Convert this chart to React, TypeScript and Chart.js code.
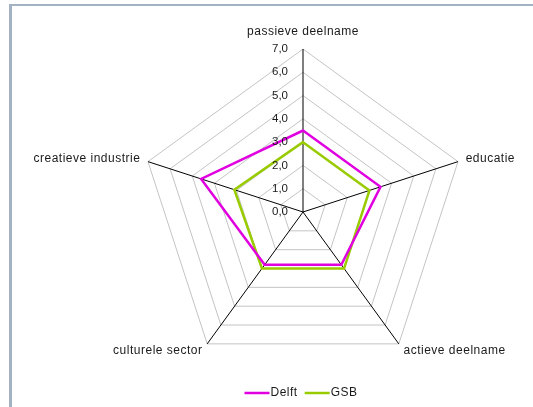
import React, { useEffect, useRef } from "react";
import { Chart, registerables } from "chart.js";

Chart.register(...registerables);

const categories = [
  "passieve deelname",
  "educatie",
  "actieve deelname",
  "culturele sector",
  "creatieve industrie",
];
const delftValues = [3.5, 3.5, 2.8, 2.8, 4.6];
const gsbValues = [3.0, 3.0, 3.0, 3.0, 3.1];
const tickValues = [0, 1, 2, 3, 4, 5, 6, 7];
const seriesNames = ["Delft", "GSB"];

const MAGENTA = "#e000e0";
const GREEN = "#99cc00";
const TICK_FONT = "11.5px 'Liberation Sans', Arial, sans-serif";
const LABEL_FONT = "12px 'Liberation Sans', Arial, sans-serif";
const TEXT = "#1a1a1a";

const labelPlugin = {
  id: "customLabels",
  afterDraw(chart: any) {
    const ctx = chart.ctx;
    const scale = chart.scales.r;
    ctx.save();
    ctx.fillStyle = TEXT;
    // tick labels
    ctx.font = TICK_FONT;
    ctx.textAlign = "right";
    ctx.textBaseline = "middle";
    tickValues.forEach((v) => {
      const d = scale.getDistanceFromCenterForValue(v);
      ctx.fillText(v.toFixed(1).replace(".", ","), scale.xCenter - 15, scale.yCenter - d);
    });
    // point labels
    ctx.font = LABEL_FONT;
    (ctx as any).letterSpacing = "0.5px";
    categories.forEach((label, i) => {
      const p = scale.getPointPosition(i, scale.drawingArea + 8);
      const dx = p.x - scale.xCenter;
      ctx.textBaseline = "middle";
      if (Math.abs(dx) < 1) {
        ctx.textAlign = "center";
        ctx.fillText(label, p.x, p.y - 9);
      } else {
        ctx.textAlign = dx > 0 ? "left" : "right";
        ctx.fillText(label, p.x, p.y);
      }
    });
    // legend
    const ds = chart.data.datasets;
    const lineLen = 25;
    const widths = ds.map((d: any) => ctx.measureText(d.label).width);
    const total = ds.reduce((acc: number, _d: any, i: number) => acc + lineLen + 1 + widths[i], 0) + 7 * (ds.length - 1);
    let x = 301 - total / 2;
    const y = 393;
    ds.forEach((d: any, i: number) => {
      ctx.strokeStyle = d.borderColor;
      ctx.lineWidth = 2.5;
      ctx.beginPath();
      ctx.moveTo(x, y);
      ctx.lineTo(x + lineLen, y);
      ctx.stroke();
      x += lineLen + 1;
      ctx.textAlign = "left";
      ctx.textBaseline = "middle";
      ctx.fillStyle = TEXT;
      ctx.fillText(d.label, x, y);
      x += widths[i] + 7;
    });
    ctx.restore();
  },
};

export default function App() {
  const ref = useRef<HTMLCanvasElement>(null);
  useEffect(() => {
    document.body.style.margin = "0";
    const chart = new Chart(ref.current as HTMLCanvasElement, {
      type: "radar",
      data: {
        labels: categories,
        datasets: [
          {
            label: seriesNames[0],
            data: delftValues,
            borderColor: MAGENTA,
            backgroundColor: "transparent",
            borderWidth: 2.5,
            pointRadius: 0,
            fill: false,
          },
          {
            label: seriesNames[1],
            data: gsbValues,
            borderColor: GREEN,
            backgroundColor: "transparent",
            borderWidth: 2.5,
            pointRadius: 0,
            fill: false,
          },
        ],
      },
      options: {
        animation: false,
        responsive: false,
        maintainAspectRatio: false,
        layout: { padding: { left: 140, right: 67, top: 49, bottom: 32 } },
        plugins: { legend: { display: false }, tooltip: { enabled: false } },
        elements: { line: { tension: 0 } },
        scales: {
          r: {
            min: 0,
            max: 7,
            beginAtZero: true,
            ticks: { stepSize: 1, display: false },
            pointLabels: { display: false },
            grid: { color: "#c4c4c4", lineWidth: 1, circular: false },
            angleLines: { color: "#000000", lineWidth: 1 },
          },
        },
      },
      plugins: [labelPlugin],
    });
    return () => chart.destroy();
  }, []);
  return (
    <div style={{ position: "relative", width: 533, height: 407, background: "#fff", overflow: "hidden" }}>
      <canvas ref={ref} width={533} height={407} style={{ position: "absolute", left: 0, top: 0 }} />
      <div
        style={{
          position: "absolute",
          left: 9,
          top: 4,
          width: 600,
          height: 500,
          borderTop: "2px solid #a2b2c2",
          borderLeft: "3px solid #a2b2c2",
          pointerEvents: "none",
        }}
      />
    </div>
  );
}
